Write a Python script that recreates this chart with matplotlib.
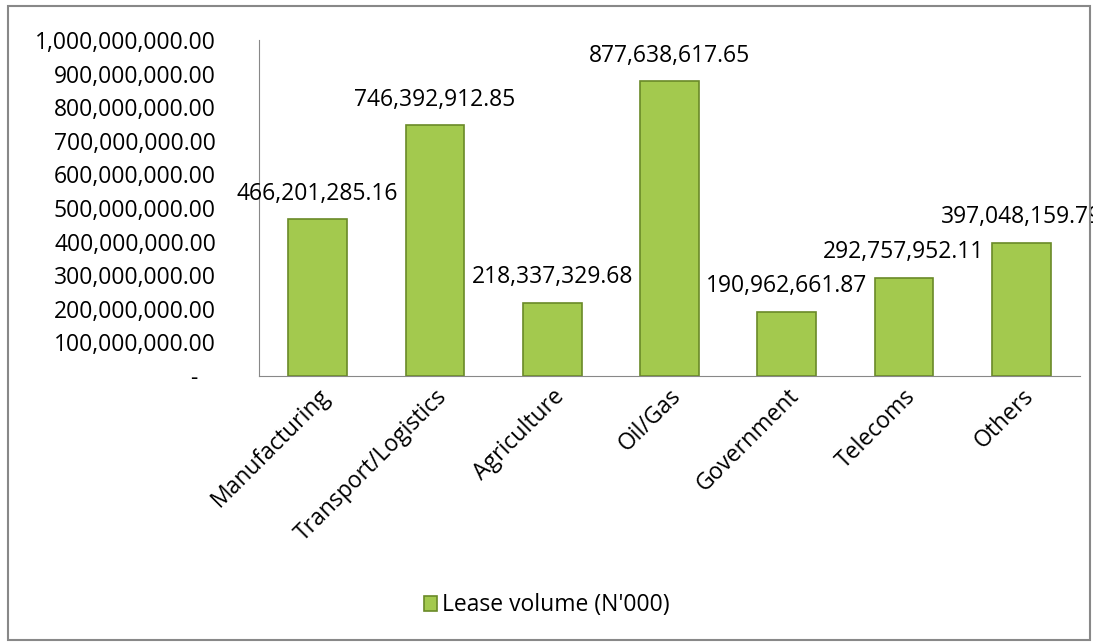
import matplotlib.pyplot as plt
from matplotlib.patches import Rectangle
from matplotlib.ticker import FuncFormatter

sectors = ['Manufacturing', 'Transport/Logistics', 'Agriculture', 'Oil/Gas',
           'Government', 'Telecoms', 'Others']
lease_volume = [466201285.16, 746392912.85, 218337329.68, 877638617.65,
                190962661.87, 292757952.11, 397048159.79]

plt.rcParams['font.family'] = ['Open Sans', 'DejaVu Sans']
fs = 16.5

fig = plt.figure(figsize=(10.93, 6.42), dpi=100)
ax = fig.add_axes([0.237, 0.4143, 0.751, 0.5234])

x = range(len(sectors))
bars = ax.bar(x, lease_volume, width=0.5, color='#a3c94e', edgecolor='#6a8a28',
              linewidth=1.2, label="Lease volume (N'000)")

for xi, v in zip(x, lease_volume):
    ax.text(xi, v + 58e6, f'{v:,.2f}', ha='center', va='baseline', fontsize=fs,
            clip_on=False)

ax.set_ylim(0, 1e9)
ax.set_xlim(-0.5, len(sectors) - 0.5)
ax.set_yticks([i * 1e8 for i in range(11)])
ax.yaxis.set_major_formatter(FuncFormatter(lambda v, p: '-   ' if v == 0 else f'{v:,.2f}'))
ax.tick_params(axis='y', length=0, labelsize=fs, pad=31)
ax.tick_params(axis='x', length=0, labelsize=fs, pad=6)
ax.set_xticks(list(x))
ax.set_xticklabels(sectors, rotation=45, ha='right', rotation_mode='anchor')

for s in ['top', 'right']:
    ax.spines[s].set_visible(False)
ax.spines['left'].set_color('#888888')
ax.spines['bottom'].set_color('#888888')

fig.legend(loc='center', bbox_to_anchor=(0.5, 0.057), frameon=False, fontsize=fs,
           handlelength=0.6, handleheight=0.6, handletextpad=0.2)

fig.patches.append(Rectangle((0.007, 0.003), 0.99, 0.987, transform=fig.transFigure,
                             fill=False, edgecolor='#888888', linewidth=1.5))

fig.savefig('out.png', dpi=100)
